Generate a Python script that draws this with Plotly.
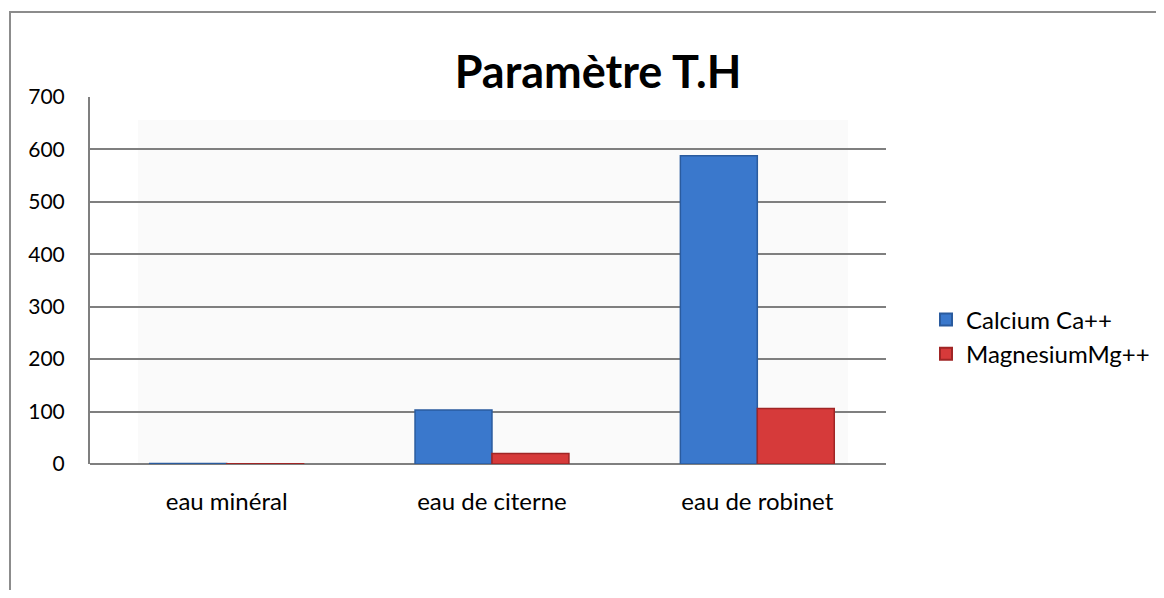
import plotly.graph_objects as go

# Données
categories = ['eau minéral', 'eau de citerne', 'eau de robinet']
calcium = [0.8, 103, 588]
magnesium = [0.6, 20, 106]
y_ticks = [0, 100, 200, 300, 400, 500, 600, 700]

# La page html ajoute une marge de 8 px autour de la figure
OFF = 8
W, H = 1164 - 2 * OFF, 598 - 2 * OFF
# Zone de tracé en pixels de l'image de référence
L, R, T, B = 90 - OFF, 886 - OFF, 97 - OFF, 464 - OFF

colors = {
    'blue': '#3a78cc',
    'blue_line': '#2a5b9e',
    'red': '#d63a3a',
    'red_line': '#a02525',
    'grid': '#7f7f7f',
    'text': '#000000',
}

fig = go.Figure()

fig.add_trace(go.Bar(
    x=categories,
    y=calcium,
    name='Calcium Ca++',
    marker=dict(color=colors['blue'], line=dict(color=colors['blue_line'], width=1.5)),
))

fig.add_trace(go.Bar(
    x=categories,
    y=magnesium,
    name='MagnesiumMg++',
    marker=dict(color=colors['red'], line=dict(color=colors['red_line'], width=1.5)),
))


def px_x(p):
    # pixel de la référence -> coordonnée paper
    return (p - OFF - L) / (R - L)


def px_y(p):
    return (B - (p - OFF)) / (B - T)


shapes = [
    # cadre extérieur du graphique
    dict(type='rect', xref='paper', yref='paper',
         x0=px_x(10), x1=px_x(1400), y0=px_y(900), y1=px_y(12),
         line=dict(color='#8c8c8c', width=2), fillcolor='rgba(0,0,0,0)', layer='below'),
    # paroi de fond légère (effet 3D)
    dict(type='rect', xref='paper', yref='paper',
         x0=px_x(138), x1=px_x(848), y0=0, y1=px_y(120),
         line=dict(width=0), fillcolor='#fafafa', layer='below'),
]

fig.update_layout(
    width=W,
    height=H,
    margin=dict(l=L, r=W - R, t=T, b=H - B, autoexpand=False),
    paper_bgcolor='white',
    plot_bgcolor='rgba(0,0,0,0)',
    font=dict(family='Lato, Open Sans, sans-serif', size=20, color=colors['text']),
    title=dict(
        text='<b>Paramètre T.H</b>',
        font=dict(size=45, color='black'),
        x=(598 - OFF) / W,
        xanchor='center',
        y=1 - (72 - OFF) / H,
        yanchor='middle',
    ),
    barmode='group',
    bargap=0.42,
    bargroupgap=0,
    showlegend=True,
    legend=dict(
        x=px_x(926),
        xanchor='left',
        y=px_y(337),
        yanchor='middle',
        font=dict(size=24),
        itemsizing='constant',
        tracegroupgap=0,
    ),
    xaxis=dict(
        range=[-0.515, 2.485],
        showgrid=False,
        showline=False,
        ticks='outside',
        ticklen=16,
        tickcolor='rgba(0,0,0,0)',
        tickfont=dict(size=24),
        zeroline=False,
    ),
    yaxis=dict(
        range=[0, 700],
        tickvals=y_ticks,
        showgrid=True,
        gridcolor=colors['grid'],
        gridwidth=2,
        showline=True,
        linecolor=colors['grid'],
        linewidth=2,
        ticks='outside',
        ticklen=19,
        tickcolor='rgba(0,0,0,0)',
        tickfont=dict(size=21),
        zeroline=True,
        zerolinecolor=colors['grid'],
        zerolinewidth=2,
    ),
    shapes=shapes,
)

fig.write_html('out.html')
